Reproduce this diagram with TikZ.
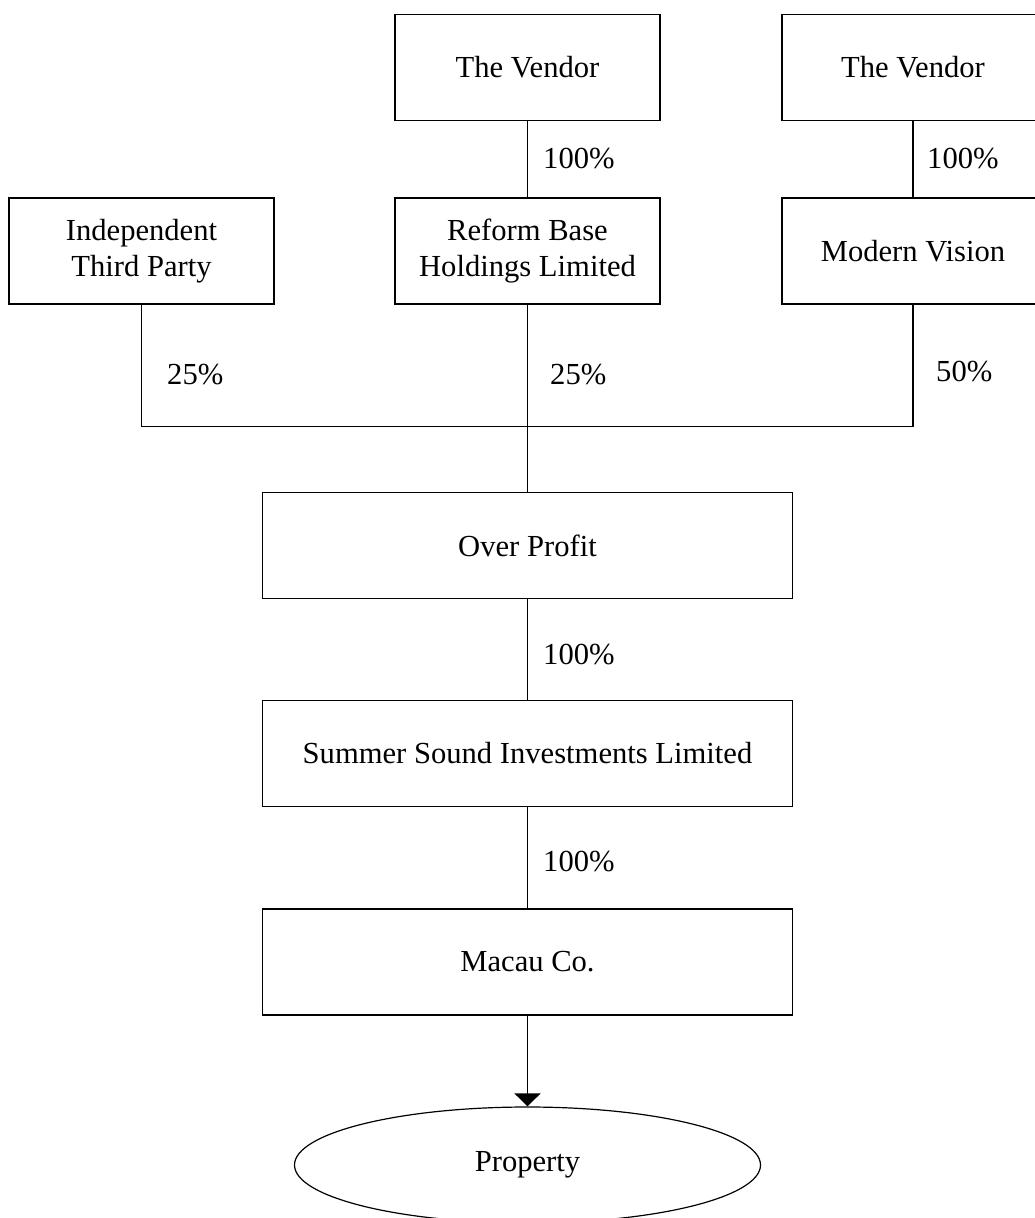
\documentclass[tikz,border=0pt]{standalone}
\usepackage{fontspec}
\setmainfont{Liberation Serif}
\usetikzlibrary{arrows.meta,shapes.geometric}
\begin{document}
\begin{tikzpicture}[x=1pt,y=-1pt,
  every node/.style={font=\fontsize{30.6}{36}\selectfont},
  box/.style={draw, line width=1.2pt, align=center, inner sep=0pt},
  smallbox/.style={box, minimum width=265pt, minimum height=106pt},
  widebox/.style={box, minimum width=530pt, minimum height=106pt},
  pct/.style={anchor=west, inner sep=0pt},
  link/.style={line width=1.2pt}]
\clip (0,0) rectangle (1035,1218);
\node[smallbox] (v1) at (527.5,67.5) {The Vendor};
\node[smallbox, minimum width=262pt] (v2) at (913,67.5) {The Vendor};
\node[smallbox] (itp) at (141.5,251) {Independent\\Third Party};
\node[smallbox] (rb) at (527.5,251) {Reform Base\\Holdings Limited};
\node[smallbox, minimum width=262pt] (mv) at (913,251) {Modern Vision};
\node[widebox] (op) at (527.5,545.5) {Over Profit};
\node[widebox] (ss) at (527.5,753.5) {Summer Sound Investments Limited};
\node[widebox] (mc) at (527.5,962) {Macau Co.};
\node[draw, ellipse, line width=1.2pt, minimum width=466pt, minimum height=116pt, inner sep=0pt] (pr) at (527.5,1165) {Property};

\coordinate (jl) at (itp.south |- 0,426.5);
\coordinate (jr) at (mv.south |- 0,426.5);

\draw[link] (v1.south) -- (rb.north);
\draw[link] (v2.south) -- (mv.north);
\draw[link] (itp.south) -- (jl) -- (jr) -- (mv.south);
\draw[link] (rb.south) -- (op.north);
\draw[link] (op.south) -- (ss.north);
\draw[link] (ss.south) -- (mc.north);
\draw[link, -{Triangle[width=26pt,length=13pt]}] (mc.south) -- (pr.north);

\node[pct] (l1) at (543,159) {100\%};
\node[pct] (l2) at (927,159) {100\%};
\node[pct] (l3) at (167,375) {25\%};
\node[pct] (l4) at (550,375) {25\%};
\node[pct] (l5) at (936,372) {50\%};
\node[pct] (l6) at (543,655) {100\%};
\node[pct] (l7) at (543,862) {100\%};
\end{tikzpicture}
\end{document}
